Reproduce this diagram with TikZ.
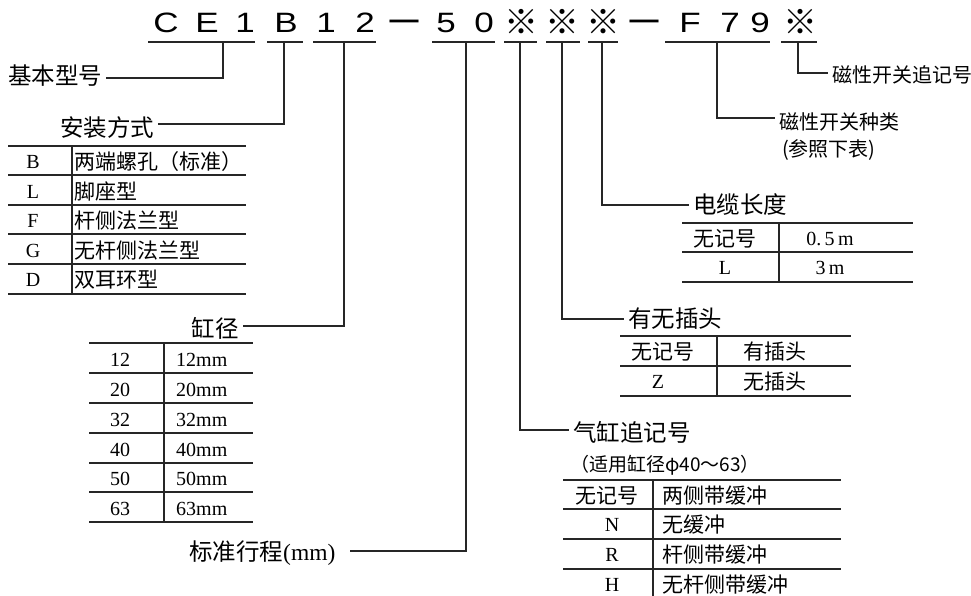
\documentclass[tikz,border=0pt]{standalone}
\usepackage{fontspec}
\setmainfont{Liberation Serif}
\newfontfamily\cjk{Noto Sans CJK SC}
\newfontfamily\codefont[FakeStretch=1.25]{Liberation Sans}
\begin{document}
\begin{tikzpicture}[x=1pt,y=-1pt,
  ln/.style={line width=1.4pt,draw=black!85},
  code/.style={font=\codefont\fontsize{28}{28}\selectfont,inner sep=0,anchor=base},
  codek/.style={font=\cjk\fontsize{34}{34}\selectfont,inner sep=0,anchor=base},
  codedash/.style={font=\cjk\fontsize{40}{40}\selectfont,inner sep=0,anchor=base},
  head/.style={font=\cjk\fontsize{23.5}{24}\selectfont,inner xsep=4pt,inner ysep=0},
  sub/.style={font=\cjk\fontsize{20}{20}\selectfont,inner xsep=4pt,inner ysep=0},
  cell/.style={font=\fontsize{20}{20}\selectfont,inner sep=0},
  cellk/.style={font=\cjk\fontsize{21}{21}\selectfont,inner sep=0},
]
\useasboundingbox (0,0) rectangle (971,596);

% ---- model code ----
\node[code] (c1) at (166,33) {C};
\node[code] (c2) at (207,33) {E};
\node[code] (c3) at (245,33) {1};
\node[code] (c4) at (286,33) {B};
\node[code] (c5) at (326,33) {1};
\node[code] (c6) at (365,33) {2};
\node[codedash] (c7) at (404,37) {－};
\node[code] (c8) at (446,33) {5};
\node[code] (c9) at (484,33) {0};
\node[codek] (c10) at (521,35) {※};
\node[codek] (c11) at (562,35) {※};
\node[codek] (c12) at (603,35) {※};
\node[codedash] (c13) at (644,37) {－};
\node[code] (c14) at (690,33) {F};
\node[code] (c15) at (730,33) {7};
\node[code] (c16) at (760,33) {9};
\node[codek] (c17) at (800,35) {※};

% underlines
\draw[ln] (148,42) -- (255,42);
\draw[ln] (267,42) -- (303,42);
\draw[ln] (313,42) -- (376,42);
\draw[ln] (432,42) -- (495,42);
\draw[ln] (504,42) -- (537,42);
\draw[ln] (546,42) -- (580,42);
\draw[ln] (588,42) -- (618,42);
\draw[ln] (665,42) -- (770,42);
\draw[ln] (781,42) -- (817,42);

\coordinate (u1) at (223,42);
\coordinate (u2) at (284,42);
\coordinate (u3) at (344,42);
\coordinate (u4) at (466,42);
\coordinate (u5) at (520,42);
\coordinate (u6) at (562,42);
\coordinate (u7) at (602,42);
\coordinate (u8) at (717,42);
\coordinate (u9) at (798,42);

% ---- labels ----
\node[head,anchor=west] (jb) at (4,75.5) {基本型号};
\node[head,anchor=west] (az) at (56,128) {安装方式};
\node[head,anchor=east] (gj) at (243,328) {缸径};
\node[head,anchor=west] (bz) at (185,553) {标准行程\fontspec{Liberation Serif}(mm)};
\node[sub,anchor=west] (zj) at (828,75) {磁性开关追记号};
\node[sub,anchor=west] (zl) at (775,122) {磁性开关种类};
\node[sub,anchor=west] (ck) at (778,150) {(参照下表)};
\node[head,anchor=west] (dl) at (689,205) {电缆长度};
\node[head,anchor=west] (ct) at (624,319) {有无插头};
\node[head,anchor=west] (qg) at (569,432) {气缸追记号};
\node[sub,anchor=west,font=\cjk\fontsize{19}{19}\selectfont] (sy) at (566,465) {（适用缸径φ40～63）};

% ---- connectors ----
\draw[ln] (u1) |- ([yshift=-2.5pt]jb.east);
\draw[ln] (u2) |- ([yshift=4pt]az.east);
\draw[ln] (u3) |- ([yshift=2pt]gj.east);
\draw[ln] (u4) |- ([xshift=10pt,yshift=2pt]bz.east);
\draw[ln] (u9) |- ([yshift=2pt]zj.west);
\draw[ln] (u8) |- ([yshift=4pt]zl.west);
\draw[ln] (u7) |- (dl.west);
\draw[ln] (u6) |- (ct.west);
\draw[ln] (u5) |- ([yshift=2pt]qg.west);

% ---- table: mounting ----
\foreach \y in {146,175,205,234,264,294} \draw[ln] (8,\y) -- (246,\y);
\draw[ln] (72,146) -- (72,294);
\node[cell] (a1) at (33,162) {B};
\node[cellk,anchor=west] (a1r) at (74,162) {两端螺孔（标准）};
\node[cell] (a2) at (33,191.5) {L};
\node[cellk,anchor=west] (a2r) at (74,191.5) {脚座型};
\node[cell] (a3) at (33,221) {F};
\node[cellk,anchor=west] (a3r) at (74,221) {杆侧法兰型};
\node[cell] (a4) at (33,250.5) {G};
\node[cellk,anchor=west] (a4r) at (74,250.5) {无杆侧法兰型};
\node[cell] (a5) at (33,280) {D};
\node[cellk,anchor=west] (a5r) at (74,280) {双耳环型};

% ---- table: bore ----
\foreach \y in {343,373,403,433,463,492,522} \draw[ln] (89,\y) -- (253,\y);
\draw[ln] (164,343) -- (164,522);
\foreach \v/\y [count=\i] in {12/360,20/390,32/420,40/449.5,50/479,63/508.5}{
  \node[cell] (b\i) at (120,\y) {\v};
  \node[cell,anchor=west] (b\i r) at (176,\y) {\v mm};
}

% ---- table: cable length ----
\foreach \y in {223,252,282} \draw[ln] (682,\y) -- (913,\y);
\draw[ln] (779,223) -- (779,282);
\node[cellk] (d1) at (725,238.5) {无记号};
\node[cell] (d1r) at (830,238.5) {0.\,5\,m};
\node[cell] (d2) at (725,268) {L};
\node[cell] (d2r) at (830,268) {3\,m};

% ---- table: connector ----
\foreach \y in {336,366,396} \draw[ln] (620,\y) -- (851,\y);
\draw[ln] (717,336) -- (717,396);
\node[cellk] (e1) at (663,352) {无记号};
\node[cellk] (e1r) at (775,352) {有插头};
\node[cell] (e2) at (658,382) {Z};
\node[cellk] (e2r) at (775,382) {无插头};

% ---- table: cylinder suffix ----
\foreach \y in {480,509,539,569} \draw[ln] (563,\y) -- (841,\y);
\draw[ln] (653,480) -- (653,600);
\node[cellk] (f1) at (607,495.5) {无记号};
\node[cellk,anchor=west] (f1r) at (662,495.5) {两侧带缓冲};
\node[cell] (f2) at (612,525) {N};
\node[cellk,anchor=west] (f2r) at (662,525) {无缓冲};
\node[cell] (f3) at (612,555) {R};
\node[cellk,anchor=west] (f3r) at (662,555) {杆侧带缓冲};
\node[cell] (f4) at (612,585) {H};
\node[cellk,anchor=west] (f4r) at (662,585) {无杆侧带缓冲};
\end{tikzpicture}
\end{document}
